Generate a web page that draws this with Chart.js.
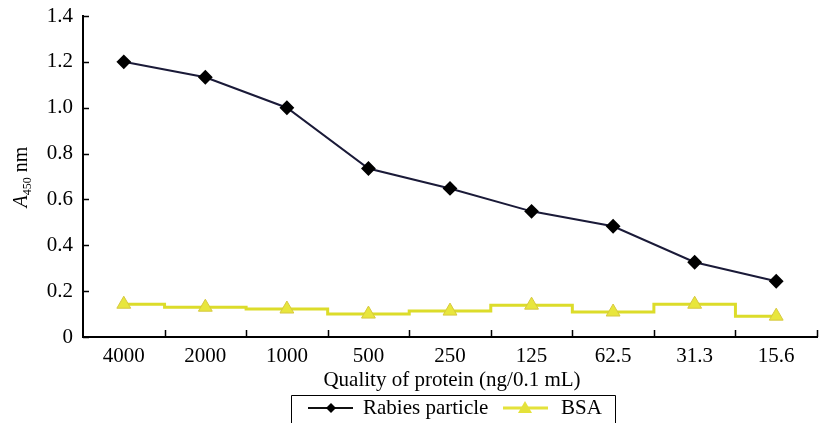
<!DOCTYPE html>
<html>
<head>
<meta charset="utf-8">
<script src="https://cdn.jsdelivr.net/npm/chart.js@4"></script>
<style>
  html, body { margin: 0; padding: 0; background: #fff; overflow: hidden; }
  #zona { width: 826px; height: 423px; }
</style>
</head>
<body>
<div id="zona"><canvas id="grafica" width="826" height="423"></canvas></div>
<script>
const categorias = ["4000", "2000", "1000", "500", "250", "125", "62.5", "31.3", "15.6"];
const rabia = [1.20, 1.133, 1.00, 0.735, 0.648, 0.548, 0.483, 0.326, 0.243];
const bsa = [0.143, 0.13, 0.122, 0.10, 0.113, 0.139, 0.109, 0.143, 0.091];
const ticksY = [0, 0.2, 0.4, 0.6, 0.8, 1.0, 1.2, 1.4];
const nombres = ["Rabies particle", "BSA"];
const tituloX = "Quality of protein (ng/0.1 mL)";

const fuente = "'Liberation Serif', 'Times New Roman', serif";

// Marcas cortas hacia dentro en ambos ejes
const marcasDentro = {
  id: "marcasDentro",
  afterDraw(chart) {
    const ctx = chart.ctx;
    const x = chart.scales.x, y = chart.scales.y;
    const paso = x.getPixelForValue(1) - x.getPixelForValue(0);
    ctx.save();
    ctx.strokeStyle = "#000";
    ctx.lineWidth = 1.5;
    ctx.beginPath();
    for (let i = 0; i < categorias.length; i++) {
      const px = Math.round(x.getPixelForValue(i) + paso / 2) + 0.5;
      ctx.moveTo(px, y.bottom);
      ctx.lineTo(px, y.bottom - 7);
    }
    ticksY.forEach(v => {
      const py = Math.round(y.getPixelForValue(v)) + 0.5;
      ctx.moveTo(x.left, py);
      ctx.lineTo(x.left + 6, py);
    });
    ctx.stroke();

    // título del eje X
    ctx.fillStyle = "#000";
    ctx.font = "21px " + fuente;
    ctx.textAlign = "center";
    ctx.textBaseline = "middle";
    ctx.fillText(tituloX, (x.left + x.right) / 2 + 2, 380);
    ctx.restore();
  }
};

// Título del eje Y con subíndice
const tituloY = {
  id: "tituloY",
  afterDraw(chart) {
    const ctx = chart.ctx;
    ctx.save();
    ctx.translate(27, 177);
    ctx.rotate(-Math.PI / 2);
    ctx.fillStyle = "#000";
    ctx.textBaseline = "alphabetic";
    const partes = [
      { t: "A", f: "italic 20px " + fuente, dy: 0 },
      { t: "450", f: "12px " + fuente, dy: 4 },
      { t: " nm", f: "20px " + fuente, dy: 0 }
    ];
    let ancho = 0;
    partes.forEach(p => { ctx.font = p.f; ancho += ctx.measureText(p.t).width; });
    let pos = -ancho / 2;
    partes.forEach(p => {
      ctx.font = p.f;
      ctx.fillText(p.t, pos, p.dy);
      pos += ctx.measureText(p.t).width;
    });
    ctx.restore();
  }
};

// Leyenda en caja bajo el título del eje X
const leyenda = {
  id: "leyenda",
  afterDraw(chart) {
    const ctx = chart.ctx;
    ctx.save();
    ctx.strokeStyle = "#000";
    ctx.lineWidth = 1;
    ctx.beginPath();
    ctx.moveTo(291.5, 430);
    ctx.lineTo(291.5, 395.5);
    ctx.lineTo(615.5, 395.5);
    ctx.lineTo(615.5, 430);
    ctx.stroke();

    const cy = 408;
    // Rabies
    ctx.strokeStyle = "#111";
    ctx.lineWidth = 2;
    ctx.beginPath();
    ctx.moveTo(308, cy); ctx.lineTo(353, cy);
    ctx.stroke();
    ctx.fillStyle = "#000";
    ctx.beginPath();
    ctx.moveTo(331, cy - 5); ctx.lineTo(336, cy); ctx.lineTo(331, cy + 5); ctx.lineTo(326, cy);
    ctx.closePath();
    ctx.fill();
    // BSA
    ctx.strokeStyle = "#e4e23a";
    ctx.lineWidth = 3;
    ctx.beginPath();
    ctx.moveTo(503, cy); ctx.lineTo(548, cy);
    ctx.stroke();
    ctx.fillStyle = "#e4e23a";
    ctx.beginPath();
    ctx.moveTo(525, cy - 7); ctx.lineTo(532, cy + 5); ctx.lineTo(518, cy + 5);
    ctx.closePath();
    ctx.fill();

    ctx.fillStyle = "#000";
    ctx.font = "21px " + fuente;
    ctx.textBaseline = "middle";
    ctx.textAlign = "left";
    ctx.fillText(nombres[0], 363, cy);
    ctx.fillText(nombres[1], 561, cy);
    ctx.restore();
  }
};

new Chart(document.getElementById("grafica"), {
  type: "line",
  data: {
    labels: categorias,
    datasets: [
      {
        label: nombres[0],
        data: rabia,
        borderColor: "#1a1a38",
        borderWidth: 2,
        pointStyle: "rectRot",
        pointRadius: 6,
        pointBackgroundColor: "#000",
        pointBorderColor: "#000",
        tension: 0
      },
      {
        label: nombres[1],
        data: bsa,
        borderColor: "#dcdc2a",
        borderWidth: 3,
        stepped: "middle",
        pointStyle: "triangle",
        pointRadius: 8,
        pointBackgroundColor: "#e8e63c",
        pointBorderColor: "#d6c840",
        pointBorderWidth: 1
      }
    ]
  },
  options: {
    responsive: false,
    animation: false,
    layout: { padding: { top: 16, right: 0, left: 0, bottom: 0 } },
    plugins: {
      legend: { display: false },
      tooltip: { enabled: false }
    },
    scales: {
      x: {
        offset: true,
        grid: { display: true, drawOnChartArea: false, drawTicks: false, offset: true },
        border: { display: true, color: "#000", width: 2 },
        ticks: { color: "#000", font: { family: fuente, size: 21 }, padding: 7, maxRotation: 0, autoSkip: false },
        afterFit(scale) { scale.height = 86; scale.paddingLeft = 0; scale.paddingRight = 0; }
      },
      y: {
        min: 0,
        max: 1.4,
        afterBuildTicks(scale) { scale.ticks = ticksY.map(v => ({ value: v })); },
        grid: { display: true, drawOnChartArea: false, drawTicks: false },
        border: { display: true, color: "#000", width: 2 },
        ticks: {
          color: "#000",
          font: { family: fuente, size: 21 },
          padding: 10,
          callback: v => (v === 0 ? "0" : v.toFixed(1))
        },
        afterFit(scale) { scale.width = 83; scale.paddingTop = 0; scale.paddingBottom = 0; }
      }
    }
  },
  plugins: [marcasDentro, tituloY, leyenda]
});
</script>
</body>
</html>
